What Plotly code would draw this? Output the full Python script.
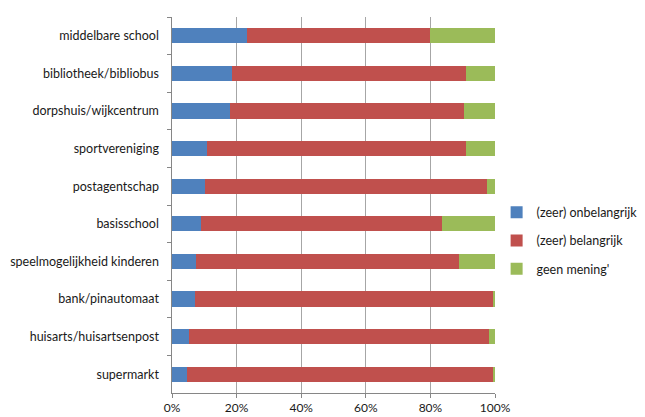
import plotly.graph_objects as go

categories = ["middelbare school", "bibliotheek/bibliobus", "dorpshuis/wijkcentrum",
              "sportvereniging", "postagentschap", "basisschool",
              "speelmogelijkheid kinderen", "bank/pinautomaat",
              "huisarts/huisartsenpost", "supermarkt"]
onbelangrijk = [23.2, 18.5, 17.9, 10.9, 10.3, 9.1, 7.4, 7.2, 5.4, 4.6]
belangrijk = [56.7, 72.4, 72.4, 80.0, 87.1, 74.4, 81.3, 92.1, 92.7, 95.0]
geen_mening = [20.1, 9.1, 9.7, 9.1, 2.6, 16.5, 11.3, 0.7, 1.9, 0.4]
series_names = ["(zeer) onbelangrijk", "(zeer) belangrijk", "geen mening'"]
colors = ["#4F81BD", "#C0504D", "#9BBB59"]
x_ticks = [0, 20, 40, 60, 80, 100]
x_tick_labels = ["0%", "20%", "40%", "60%", "80%", "100%"]

fig = go.Figure()
for i, (name, vals) in enumerate(zip(series_names, [onbelangrijk, belangrijk, geen_mening])):
    fig.add_trace(go.Bar(
        y=categories, x=vals, name=name, orientation="h",
        marker=dict(color=colors[i], line=dict(width=0)),
        legendgroup=f"g{i}",
    ))

# page body has an 8px default margin, so the figure is sized to 637x409
fig.update_layout(
    barmode="stack",
    bargap=0.6,
    width=637, height=409,
    margin=dict(l=164, r=150, t=9, b=24, autoexpand=False),
    paper_bgcolor="white", plot_bgcolor="white",
    font=dict(family="Lato, Open Sans, sans-serif", size=12.5, color="#1a1a1a"),
    showlegend=True,
    legend=dict(x=1.005, y=0.405, xanchor="left", yanchor="middle",
                traceorder="grouped", tracegroupgap=9, itemwidth=30,
                font=dict(size=12.5, color="#1a1a1a"),
                bgcolor="rgba(0,0,0,0)"),
    xaxis=dict(range=[0, 100], tickvals=x_ticks, ticktext=x_tick_labels,
               showgrid=True, gridcolor="#A6A6A6", gridwidth=1,
               showline=True, linecolor="#868686", linewidth=1,
               ticks="outside", ticklen=4, tickcolor="#868686",
               tickfont=dict(size=12),
               zeroline=False, fixedrange=True, automargin=False),
    yaxis=dict(autorange="reversed", showline=True, linecolor="#868686",
               linewidth=1, ticks="outside", ticklen=4, tickcolor="#868686",
               tickson="boundaries", showgrid=False, ticksuffix="   ",
               fixedrange=True, automargin=False),
)

fig.write_html("out.html")
